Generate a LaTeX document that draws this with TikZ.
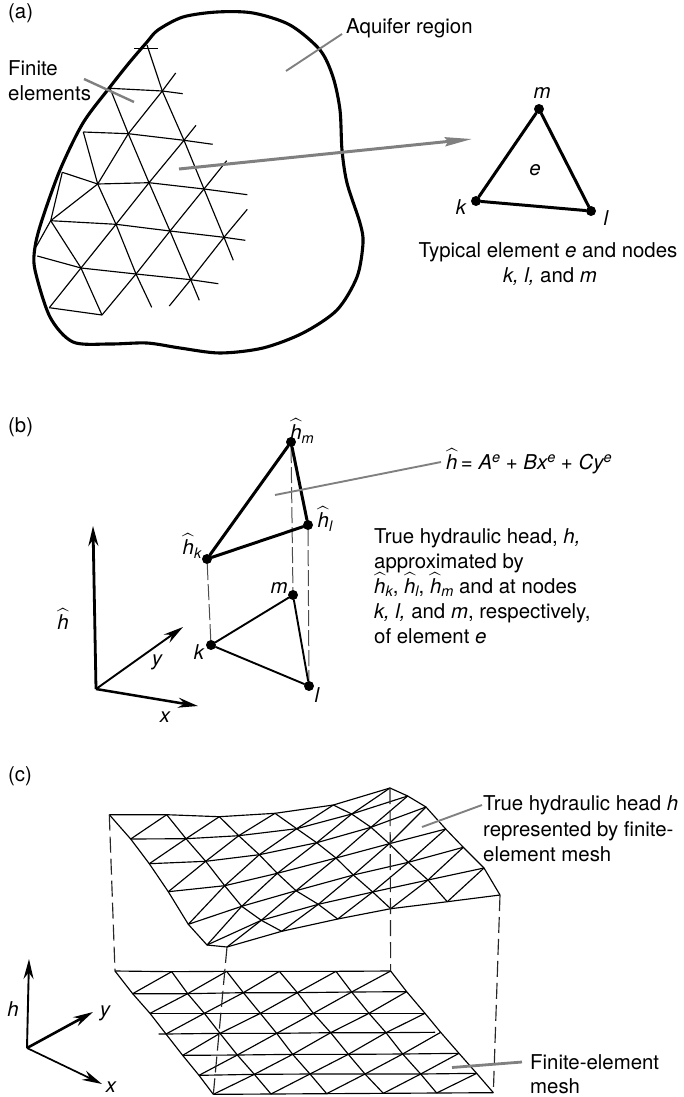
\documentclass[tikz,border=0pt]{standalone}
\usepackage{fontspec}
\usepackage{amsmath}
\setmainfont{TeX Gyre Heros}
\usetikzlibrary{arrows.meta}
\newcommand{\hh}{\ensuremath{\widehat{\mbox{\itshape h}}}}
\newcommand{\subi}[1]{\raisebox{-0.3ex}{\fontsize{14.5}{14.5}\selectfont\itshape #1}}
\newcommand{\supi}[1]{\raisebox{0.65ex}{\fontsize{14.5}{14.5}\selectfont\itshape #1}}
\tikzset{
  txt/.style={inner sep=0pt,anchor=base west,font=\fontsize{20.4}{24}\selectfont},
  lab/.style={inner sep=0pt,anchor=center,font=\fontsize{20.4}{24}\selectfont\itshape},
  mesh/.style={line width=1.15pt,line join=round,black},
  dlink/.style={line width=1.15pt,dash pattern=on 16pt off 6pt,black!85},
  ddot/.style={circle,fill=black,inner sep=0pt,minimum size=10pt},
  leader/.style={line width=1.9pt,draw=black!50},
  tri/.style={line width=3pt,line cap=round},
  trib/.style={line width=1.9pt,line cap=round},
  axis/.style={-{Stealth[length=20pt,width=10pt]}}
}
\begin{document}
\begin{tikzpicture}[x=1pt,y=-1pt]
\useasboundingbox (0,0) rectangle (683,1097);
% ---------- (a)
\node[txt] (la) at (8,19) {(a)};
\draw[line width=3.1pt,line join=round] plot[smooth cycle,tension=0.5] coordinates {
 (342,150) (347,183) (360,223) (363,243) (357,277) (337,310) (303,333) (263,348) (220,353) (180,348) (147,343)
 (110,344) (73,342) (50,317) (35,270) (35,247) (42,220) (60,170) (83,123) (110,87) (129,63) (147,42) (158,30) (183,17) (217,12) (253,13) (290,25) (320,50) (333,77) (340,110)};
\foreach \n/\x/\y in {
 t0/147/45,t1/134.3/48.3,t2/157.7/48.3,
 a10/110/88.3,a11/162.3/91,a1e/182.7/93.7,
 a20/83.3/132,a21/128.3/133.7,a22/184/140.3,a2e/212.7/144.3,
 a30/62.3/172.3,a31/97.7/184,a32/149/182.7,a33/204/189,a3e/247.3/194.7,
 a40/50.7/220.7,a41/116/224.3,a42/170/231,a43/224/237.3,a4e/245.3/240.3,
 a50/37.3/256,a51/81/268,a52/136/274,a53/190.7/279.7,a5e/218.3/283.7,
 a60/49.3/307.7,a61/102/315,
 d1e/233.3/260.3,d2e/199.3/300.3,d3e/151.7/307.3,
 u1/175.7/73,u2/196/125.3,u3/226.7/160.7,u4/247.3/209.3,u5/169.3/306,v1/36/247}
 {\coordinate (\n) at (\x,\y);}
\draw[mesh] (t1)--(t2);
\draw[mesh] (a10)--(a11)--(a1e);
\draw[mesh] (a20)--(a21)--(a22)--(a2e);
\draw[mesh] (a30)--(a31)--(a32)--(a33)--(a3e);
\draw[mesh] (a40)--(a41)--(a42)--(a43)--(a4e);
\draw[mesh] (a50)--(a51)--(a52)--(a53)--(a5e);
\draw[mesh] (a60)--(a61);
\draw[mesh] (t0)--(a11)--(a22)--(a33)--(a43)--(d1e);
\draw[mesh] (a10)--(a21)--(a32)--(a42)--(a53)--(d2e);
\draw[mesh] (a20)--(a31)--(a41)--(a52)--(d3e);
\draw[mesh] (a40)--(a51)--(a61);
\draw[mesh] (u1)--(a11)--(a21)--(a31)--(a40)--(v1);
\draw[mesh] (u2)--(a22)--(a32)--(a41)--(a51)--(a60);
\draw[mesh] (u3)--(a33)--(a42)--(a52)--(a61);
\draw[mesh] (u4)--(a43)--(a53)--(u5);
\draw[mesh] (a30)--(a40);
\node[txt] (tfin) at (8,76) {Finite};
\node[txt] (tele) at (8,101) {elements};
\node[txt] (taq) at (346,34) {Aquifer region};
\coordinate (fa) at (84,79); \coordinate (fb) at (134,102);
\draw[leader,line width=2.4pt] (fa)--(fb);
\coordinate (aa) at (286,71); \coordinate (ab) at (342,34);
\draw[leader] (aa)--(ab);
\coordinate (ea) at (179,169); \coordinate (eb) at (472,139);
\draw[black!50,line width=3pt,-{Stealth[length=27pt,width=9pt,inset=3pt]}] (ea)--(eb);
\node[ddot] (em) at (539,109) {};
\node[ddot] (ek) at (476,201) {};
\node[ddot] (el) at (591,211) {};
\draw[tri] (ek)--(em)--(el)--(ek);
\node[lab] (lm) at (542,93) {m};
\node[lab] (le) at (535,170) {e};
\node[lab] (lk) at (461,207) {k};
\node[lab] (ll) at (606,218) {l};
\node[txt,anchor=base] (tt1) at (548,257) {Typical element {\itshape e} and nodes};
\node[txt,anchor=base] (tt2) at (550,282) {{\itshape k, l,} and {\itshape m}};
% ---------- (b)
\node[txt] (lb) at (8,432) {(b)};
\node[ddot] (hm) at (291,442) {};
\node[ddot] (hl) at (308,525) {};
\node[ddot] (hk) at (207,559) {};
\node[ddot] (bm) at (293,595) {};
\node[ddot] (bk) at (211,645) {};
\node[ddot] (bl) at (309,686) {};
\draw[line width=1pt,dash pattern=on 16pt off 4pt,black!70] (hk)--(bk);
\draw[line width=1pt,dash pattern=on 16pt off 4pt,black!70] (hm)--(bm);
\draw[line width=1pt,dash pattern=on 16pt off 4pt,black!70] (hl)--(bl);
\draw[tri] (hk)--(hm)--(hl)--(hk);
\draw[trib] (bk)--(bm)--(bl)--(bk);
\coordinate (bO) at (96,689); \coordinate (bh) at (93,526);
\coordinate (by) at (183,627); \coordinate (bx) at (198,706);
\draw[axis,line width=2.8pt] (bO)--(bh);
\draw[axis,line width=1.9pt] (bO)--(by);
\draw[axis,line width=2.5pt] (bO)--(bx);
\node[lab] (lhb) at (63,619) {\hh};
\node[lab] (lyb) at (157,662) {y};
\node[lab] (lxb) at (165,717) {x};
\node[lab] (lkb) at (199,652) {k};
\node[lab] (llb) at (317,695) {l};
\node[lab] (lmb) at (279,588) {m};
\node[lab] (lhk) at (192,546) {\hh\subi{k}};
\node[lab] (lhl) at (325,519) {\hh\subi{l}};
\node[lab] (lhm) at (302,431) {\hh\subi{m}};
\coordinate (qa) at (275,495); \coordinate (qb) at (441,462);
\draw[leader] (qa)--(qb);
\node[txt] (teq) at (446,469) {\hh\,= {\itshape A}\supi{e} + {\itshape Bx}\supi{e} + {\itshape Cy}\supi{e}};
\node[txt] (tb1) at (374,543) {True hydraulic head, {\itshape h,}};
\node[txt] (tb2) at (374,568) {approximated by};
\node[txt] (tb3) at (374,593) {\hh\subi{k}, \hh\subi{l}, \hh\subi{m} and at nodes};
\node[txt] (tb4) at (374,618) {{\itshape k, l,} and {\itshape m}, respectively,};
\node[txt] (tb5) at (374,643) {of element {\itshape e}};
% ---------- (c)
\node[txt] (lc) at (8,781) {(c)};
\foreach \x/\y [count=\c from 0] in {109.3/814.7,166.7/814.7,219.3/816.7,275/813.3,333.3/805,390/788} {\coordinate (S0\c) at (\x,\y);}
\foreach \x/\y [count=\c from 0] in {130.7/839,186/838.7,238.7/835.7,296.7/828.7,351.7/814,407.7/796} {\coordinate (S1\c) at (\x,\y);}
\foreach \x/\y [count=\c from 0] in {149.3/863.7,205.7/861.3,259.3/854.7,316.7/842.7,371/827.3,426/807} {\coordinate (S2\c) at (\x,\y);}
\foreach \x/\y [count=\c from 0] in {168.3/891.7,224.7/885.7,277.3/873.3,336/858,389.3/843.7,445.7/829} {\coordinate (S3\c) at (\x,\y);}
\foreach \x/\y [count=\c from 0] in {188.3/924.3,241.7/906.3,296/890.7,353.3/875,408.3/862.3,463.3/847.3} {\coordinate (S4\c) at (\x,\y);}
\foreach \x/\y [count=\c from 0] in {207/945,261.3/920.3,318.3/904.3,372.7/892,428/880,484/868} {\coordinate (S5\c) at (\x,\y);}
\foreach \x/\y [count=\c from 0] in {227/947,281.7/931.3,337.7/919,390.7/908.7,447.3/901.7,500/895} {\coordinate (S6\c) at (\x,\y);}
\foreach \x/\y [count=\c from 0] in {45/213,215/215,380/214,538/214,708/214,872/213} {\coordinate (B0\c) at ({\x/3+100},{\y/3+900});}
\foreach \x/\y [count=\c from 0] in {98/281,263/281,430/278,592/278,755/276,920/275} {\coordinate (B1\c) at ({\x/3+100},{\y/3+900});}
\foreach \x/\y [count=\c from 0] in {150/340,313/340,481/340,640/340,807/340,975/340} {\coordinate (B2\c) at ({\x/3+100},{\y/3+900});}
\foreach \x/\y [count=\c from 0] in {198/402,360/400,530/400,692/398,858/398,1022/397} {\coordinate (B3\c) at ({\x/3+100},{\y/3+900});}
\foreach \x/\y [count=\c from 0] in {248/466,412/465,578/463,745/463,908/462,1077/460} {\coordinate (B4\c) at ({\x/3+100},{\y/3+900});}
\foreach \x/\y [count=\c from 0] in {297/526,463/523,630/522,795/522,962/522,1130/520} {\coordinate (B5\c) at ({\x/3+100},{\y/3+900});}
\foreach \x/\y [count=\c from 0] in {340/583,513/582,680/581,850/580,1010/579,1180/578} {\coordinate (B6\c) at ({\x/3+100},{\y/3+900});}
\coordinate (B3s) at (158.7,1034); \coordinate (B3e) at (435,1032.3);
\foreach \P in {S,B} {
  \foreach \r in {0,1,2,4,5,6} {\draw[mesh] (\P\r0)--(\P\r1)--(\P\r2)--(\P\r3)--(\P\r4)--(\P\r5);}
  \foreach \c in {0,...,5} {\draw[mesh] (\P0\c)--(\P1\c)--(\P2\c)--(\P3\c)--(\P4\c)--(\P5\c)--(\P6\c);}
  \foreach \r/\q in {1/0,2/1,3/2,4/3,5/4,6/5} {
    \foreach \c/\d in {0/1,1/2,2/3,3/4,4/5} {\draw[mesh] (\P\r\c)--(\P\q\d);}
  }
}
\draw[mesh] (S30)--(S31)--(S32)--(S33)--(S34)--(S35);
\draw[mesh] (B3s)--(B30)--(B31)--(B32)--(B33)--(B34)--(B3e);
\draw[dlink] (S00)--(B00);
\draw[dlink] (S05)--(B05);
\draw[dlink] (S60)--(B60);
\draw[dlink] (S65)--(B65);
\coordinate (ra) at (422,827); \coordinate (rb) at (482,805);
\draw[leader] (ra)--(rb);
\coordinate (sa) at (452,1067.5); \coordinate (sb) at (522,1062);
\draw[leader,line width=2.8pt] (sa)--(sb);
\node[txt] (tc1) at (483,810.5) {True hydraulic head {\itshape h}};
\node[txt] (tc2) at (483,836) {represented by finite-};
\node[txt] (tc3) at (483,861) {element mesh};
\node[txt] (tc4) at (530,1069) {Finite-element};
\node[txt] (tc5) at (530,1093) {mesh};
\coordinate (cO) at (27,1048); \coordinate (ch) at (29,959);
\coordinate (cy) at (93,1012); \coordinate (cx) at (102,1084);
\draw[axis,line width=1.9pt] (cO)--(ch);
\draw[axis,line width=2.6pt] (cO)--(cy);
\draw[axis,line width=1.7pt] (cO)--(cx);
\node[lab] (lhc) at (13,1009) {h};
\node[lab] (lyc) at (105,1013) {y};
\node[lab] (lxc) at (111,1087) {x};
\end{tikzpicture}
\end{document}
